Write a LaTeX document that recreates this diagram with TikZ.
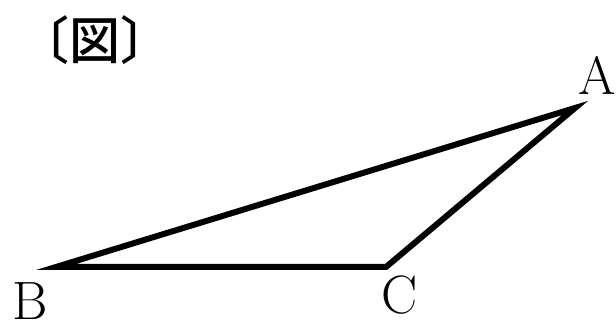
\documentclass[tikz,border=0pt]{standalone}
\usepackage{fontspec}
\newfontfamily\cjk{Noto Sans CJK JP Medium}
\begin{document}
\begin{tikzpicture}[x=1pt,y=1pt,
  edge/.style={line width=6pt,line join=miter,line cap=butt},
  lab/.style={anchor=base,inner sep=0pt,font=\fontsize{54}{60}\selectfont}]
\useasboundingbox (0,0) rectangle (616,324);
\coordinate (A) at (575,216);
\coordinate (B) at (56,57);
\coordinate (C) at (386,57);
\draw[edge] (B) -- (A) -- (C) -- cycle;
\node[lab] (la) at (597,229) {A};
\node[lab] (lb) at (30,5) {B};
\node[lab] (lc) at (400,10) {C};
\node[inner sep=0pt,font=\cjk\fontsize{51}{56}\selectfont] (title) at (95,284) {〔図〕};
\end{tikzpicture}
\end{document}
